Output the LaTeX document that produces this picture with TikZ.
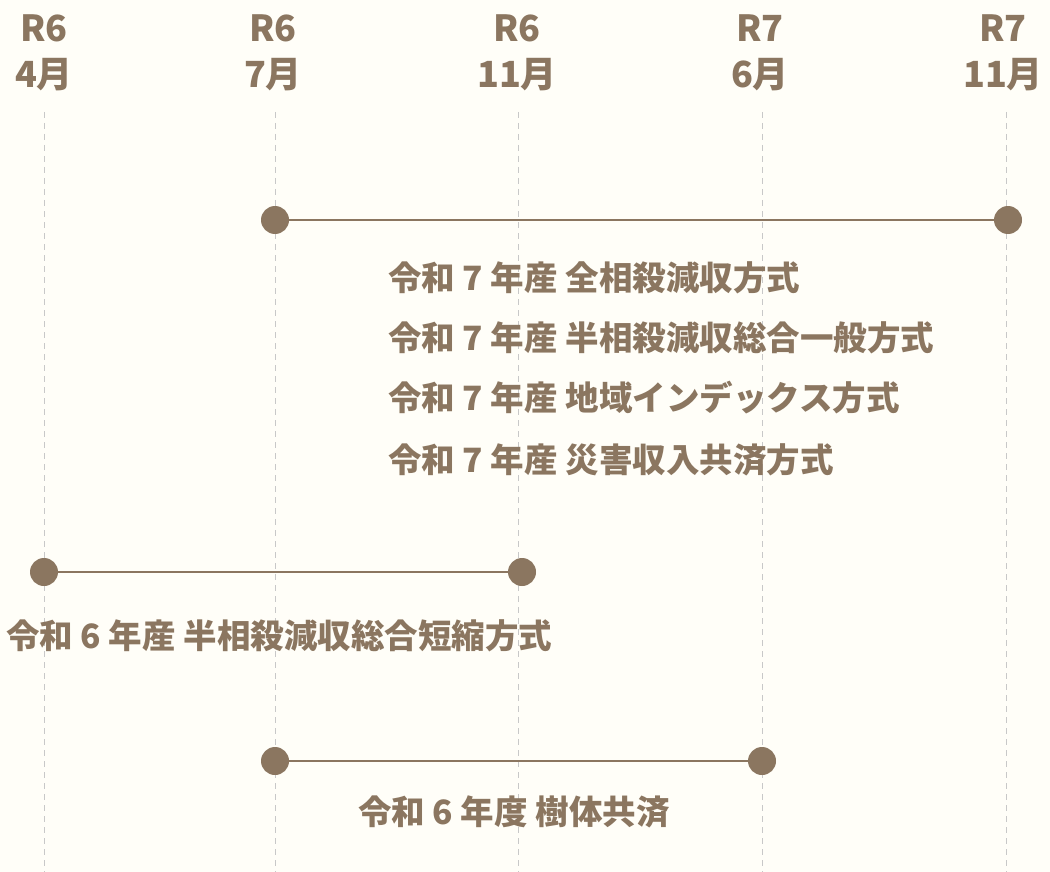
\documentclass[tikz,border=0pt]{standalone}
\usepackage{fontspec}
\setmainfont{Noto Sans CJK JP}
\usetikzlibrary{positioning}
\definecolor{bark}{HTML}{8B7660}
\definecolor{gridgray}{HTML}{C8C8C8}
\definecolor{paper}{HTML}{FFFEF8}

\begin{document}
\begin{tikzpicture}
[x=1pt, y=-1pt,
head/.style={text=bark, font=\fontsize{36}{40}\selectfont\bfseries, inner sep=0pt},
label/.style={text=bark, font=\fontsize{33.5}{38}\selectfont\bfseries, inner sep=0pt, anchor=west},
dot/.style={circle, fill=bark, inner sep=0pt, minimum size=28pt},
span/.style={draw=bark, line width=1.3pt},
guide/.style={draw=gridgray, line width=1pt, dash pattern=on 6pt off 5pt}]

\fill[paper] (0,0) rectangle (1050,872);
\useasboundingbox (0,0) rectangle (1050,872);

% month guides
\coordinate (g1top) at (44,112);
\coordinate (g1bot) at (44,872);
\coordinate (g2top) at (275,112);
\coordinate (g2bot) at (275,872);
\coordinate (g3top) at (518,112);
\coordinate (g3bot) at (518,872);
\coordinate (g4top) at (762,112);
\coordinate (g4bot) at (762,872);
\coordinate (g5top) at (1006,112);
\coordinate (g5bot) at (1006,872);
\draw[guide] (g1top) -- (g1bot);
\draw[guide] (g2top) -- (g2bot);
\draw[guide] (g3top) -- (g3bot);
\draw[guide] (g4top) -- (g4bot);
\draw[guide] (g5top) -- (g5bot);

% header
\node[head] (era1) at (44,28) {R6};
\node[head] (mon1) at (44,75) {4月};
\node[head] (era2) at (273,28) {R6};
\node[head] (mon2) at (273,75) {7月};
\node[head] (era3) at (517,28) {R6};
\node[head] (mon3) at (517,75) {11月};
\node[head] (era4) at (760,28) {R7};
\node[head] (mon4) at (760,75) {6月};
\node[head] (era5) at (1003,28) {R7};
\node[head] (mon5) at (1003,75) {11月};

% R7 plans
\node[dot] (p1start) at (275,220) {};
\node[dot] (p1end) at (1008,220) {};
\draw[span] (p1start) -- (p1end);
\node[label] (p1a) at (388,278) {令和 7 年産 全相殺減収方式};
\node[label] (p1b) at (388,338) {令和 7 年産 半相殺減収総合一般方式};
\node[label] (p1c) at (388,398) {令和 7 年産 地域インデックス方式};
\node[label] (p1d) at (388,460) {令和 7 年産 災害収入共済方式};

% R6 short plan
\node[dot] (p2start) at (44,572) {};
\node[dot] (p2end) at (522,572) {};
\draw[span] (p2start) -- (p2end);
\node[label] (p2a) at (6,636) {令和 6 年産 半相殺減収総合短縮方式};

% tree plan
\node[dot] (p3start) at (275,761) {};
\node[dot] (p3end) at (762,761) {};
\draw[span] (p3start) -- (p3end);
\node[label] (p3a) at (358,812) {令和 6 年度 樹体共済};
\end{tikzpicture}
\end{document}
